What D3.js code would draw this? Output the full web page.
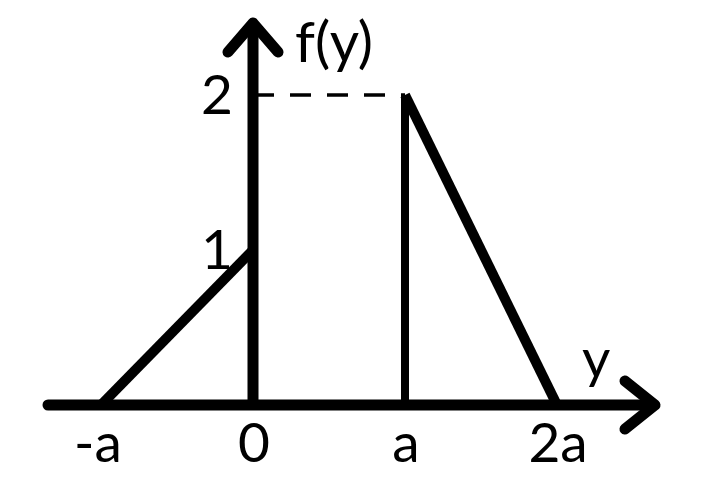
<!DOCTYPE html>
<html><head><meta charset="utf-8">
<script src="https://cdn.jsdelivr.net/npm/d3@7"></script>
<style>body{margin:0;background:#fff}svg{display:block}text{font-family:Lato,"Open Sans",sans-serif;fill:#000}</style>
</head><body>
<script>
const xTickValues = [-1, 0, 1, 2];
const xTickLabels = ["-a", "0", "a", "2a"];
const yTickValues = [1, 2];
const yTickLabels = ["1", "2"];
const leftPieceX = [-1, 0];
const leftPieceY = [0, 1];
const rightPieceX = [1, 1, 2];
const rightPieceY = [0, 2, 0];
const dashX = [0, 1];
const dashY = [2, 2];

const W = 708, H = 490;
const svg = d3.select("body").append("svg").attr("width", W).attr("height", H);
const x = d3.scaleLinear().domain([-1, 2]).range([101, 557]);
const y = d3.scaleLinear().domain([0, 2]).range([405, 95]);

const line = d3.line().x(d => x(d[0])).y(d => y(d[1]));

svg.append("path").attr("d", line(d3.zip(dashX, dashY)))
  .attr("stroke", "#000").attr("stroke-width", 3.5).attr("stroke-dasharray", "21,16").attr("fill", "none");

svg.append("path").attr("d", line([[rightPieceX[0], rightPieceY[0]], [rightPieceX[1], rightPieceY[1]]]))
  .attr("stroke", "#000").attr("stroke-width", 8).attr("fill", "none");
svg.append("path").attr("d", line([[rightPieceX[1], rightPieceY[1]], [rightPieceX[2], rightPieceY[2]]]))
  .attr("stroke", "#000").attr("stroke-width", 10).attr("fill", "none").attr("stroke-linejoin", "round");
svg.append("path").attr("d", line(d3.zip(leftPieceX, leftPieceY)))
  .attr("stroke", "#000").attr("stroke-width", 10).attr("fill", "none");

const xMin = x.invert(48), xMax = x.invert(655);
const yMax = y.invert(23);
svg.append("line").attr("x1", x(xMin)).attr("x2", x(xMax) - 4).attr("y1", y(0)).attr("y2", y(0))
  .attr("stroke", "#000").attr("stroke-width", 11).attr("stroke-linecap", "round");
svg.append("path").attr("d", `M${x(xMax)-30},${y(0)-24} L${x(xMax)},${y(0)} L${x(xMax)-30},${y(0)+24}`)
  .attr("stroke", "#000").attr("stroke-width", 11).attr("fill", "none").attr("stroke-linecap", "round").attr("stroke-linejoin", "round");
svg.append("line").attr("x1", x(0)).attr("x2", x(0)).attr("y1", y(0)).attr("y2", y(yMax) + 4)
  .attr("stroke", "#000").attr("stroke-width", 11);
svg.append("path").attr("d", `M${x(0)-25},${y(yMax)+29} L${x(0)},${y(yMax)} L${x(0)+25},${y(yMax)+29}`)
  .attr("stroke", "#000").attr("stroke-width", 11).attr("fill", "none").attr("stroke-linecap", "round").attr("stroke-linejoin", "round");

svg.selectAll(".xl").data(xTickValues).enter().append("text")
  .attr("x", (d, i) => x(d) + (i === 0 ? -3 : 1)).attr("y", 462).attr("text-anchor", "middle")
  .attr("font-size", 55).text((d, i) => xTickLabels[i]);
svg.selectAll(".yl").data(yTickValues).enter().append("text")
  .attr("x", 233).attr("y", d => y(d) + 19).attr("text-anchor", "end")
  .attr("font-size", 55).text((d, i) => yTickLabels[i]);

svg.append("text").attr("x", 295).attr("y", 62).attr("font-size", 57).text("f(y)");
svg.append("text").attr("x", 582).attr("y", 378).attr("font-size", 55).text("y");
</script>
</body></html>
